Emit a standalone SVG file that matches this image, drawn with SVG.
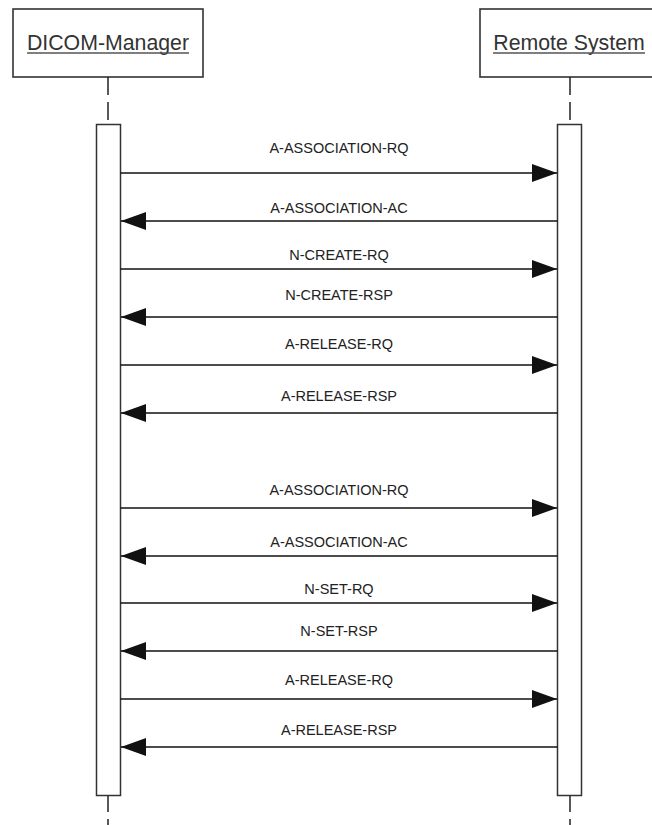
<svg xmlns="http://www.w3.org/2000/svg" width="652" height="825" viewBox="0 0 652 825">
<defs>
<marker id="ah" markerWidth="25" markerHeight="18" refX="25" refY="9" orient="auto-start-reverse" markerUnits="userSpaceOnUse">
<path d="M0,0 L25,9 L0,18 Z" fill="#111"/>
</marker>
<style>
.hdr{fill:#fff;stroke:#333;stroke-width:1.6}
.ht{font-family:"Liberation Sans",Arial,sans-serif;font-size:21.3px;fill:#333;text-anchor:middle}
.ul{stroke:#555;stroke-width:1.3}
.life{stroke:#222;stroke-width:1.5;stroke-dasharray:18 7;fill:none}
.act{fill:#fff;stroke:#333;stroke-width:1.5}
.msg{stroke:#111;stroke-width:1.7;fill:none}
.lbl{font-family:"Liberation Sans",Arial,sans-serif;font-size:14.5px;fill:#222;text-anchor:middle}
</style>
</defs>
<rect width="652" height="825" fill="#fff"/>
<g id="dicom-manager">
<rect class="hdr" x="13" y="9" width="190" height="68"/>
<text class="ht" x="108" y="50">DICOM-Manager</text>
<line class="ul" x1="27" y1="53" x2="189" y2="53"/>
<line class="life" x1="108" y1="77" x2="108" y2="124"/>
<line class="life" x1="108" y1="796" x2="108" y2="825" stroke-dashoffset="2"/>
<rect class="act" x="96.5" y="124.5" width="24" height="671"/>
</g>
<g id="remote-system">
<rect class="hdr" x="480" y="9" width="185" height="68"/>
<text class="ht" x="569" y="50">Remote System</text>
<line class="ul" x1="493" y1="53" x2="645" y2="53"/>
<line class="life" x1="570" y1="77" x2="570" y2="124"/>
<line class="life" x1="570" y1="796" x2="570" y2="825" stroke-dashoffset="2"/>
<rect class="act" x="557.5" y="124.5" width="24" height="671"/>
</g>
<g id="connectors">
<line class="msg" x1="120.5" y1="173" x2="557" y2="173" marker-end="url(#ah)"/>
<text class="lbl" x="339" y="153">A-ASSOCIATION-RQ</text>
<line class="msg" x1="557.5" y1="221" x2="121" y2="221" marker-end="url(#ah)"/>
<text class="lbl" x="339" y="213">A-ASSOCIATION-AC</text>
<line class="msg" x1="120.5" y1="269" x2="557" y2="269" marker-end="url(#ah)"/>
<text class="lbl" x="339" y="260">N-CREATE-RQ</text>
<line class="msg" x1="557.5" y1="317" x2="121" y2="317" marker-end="url(#ah)"/>
<text class="lbl" x="339" y="300">N-CREATE-RSP</text>
<line class="msg" x1="120.5" y1="365" x2="557" y2="365" marker-end="url(#ah)"/>
<text class="lbl" x="339" y="349">A-RELEASE-RQ</text>
<line class="msg" x1="557.5" y1="413" x2="121" y2="413" marker-end="url(#ah)"/>
<text class="lbl" x="339" y="401">A-RELEASE-RSP</text>
<line class="msg" x1="120.5" y1="508" x2="557" y2="508" marker-end="url(#ah)"/>
<text class="lbl" x="339" y="495">A-ASSOCIATION-RQ</text>
<line class="msg" x1="557.5" y1="556" x2="121" y2="556" marker-end="url(#ah)"/>
<text class="lbl" x="339" y="547">A-ASSOCIATION-AC</text>
<line class="msg" x1="120.5" y1="603" x2="557" y2="603" marker-end="url(#ah)"/>
<text class="lbl" x="339" y="594">N-SET-RQ</text>
<line class="msg" x1="557.5" y1="651" x2="121" y2="651" marker-end="url(#ah)"/>
<text class="lbl" x="339" y="636">N-SET-RSP</text>
<line class="msg" x1="120.5" y1="699" x2="557" y2="699" marker-end="url(#ah)"/>
<text class="lbl" x="339" y="685">A-RELEASE-RQ</text>
<line class="msg" x1="557.5" y1="747" x2="121" y2="747" marker-end="url(#ah)"/>
<text class="lbl" x="339" y="735">A-RELEASE-RSP</text>
</g>
</svg>
